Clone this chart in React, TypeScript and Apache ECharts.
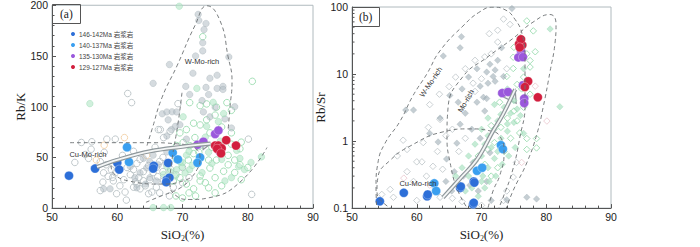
import React, { useEffect, useRef } from "react";
import * as echarts from "echarts";

// ---------- axis ticks ----------
const xTickValues = [50, 60, 70, 80, 90];
const rbkTickValues = [0, 50, 100, 150, 200];
const rbsrMinorTicks = [0.2, 0.3, 0.4, 0.5, 0.6, 0.7, 0.8, 0.9, 2, 3, 4, 5, 6, 7, 8, 9, 20, 30, 40, 50, 60, 70, 80, 90];

// ---------- legend names ----------
const groupNames = ["146-142Ma 岩浆岩", "140-137Ma 岩浆岩", "135-130Ma 岩浆岩", "129-127Ma 岩浆岩"];

// ---------- panel (a): SiO2 vs Rb/K ----------
const a146 = [[52.6, 32], [56.6, 39], [60, 44.6], [60.3, 38], [65.6, 41.7], [65.5, 39], [67.8, 44.5], [67.6, 28], [68, 30], [67.5, 25.6]];
const a140 = [[61.5, 60], [61.8, 45.5], [68.5, 54.5], [69.3, 48], [72.7, 50], [72.3, 44.6]];
const a135 = [[72.3, 62.5], [73.2, 65.4], [75, 73], [75.5, 76.6], [75.6, 57], [75.8, 55]];
const a129 = [[76.7, 67], [75, 61.6], [75.5, 61.6], [76, 59], [75.3, 58.5], [78.2, 61.6], [75.9, 54]];

const aGrayFill = [[72.4, 191], [72.5, 185], [73.6, 182], [73.3, 176], [73.1, 163], [73.1, 155], [77.1, 149], [71.6, 133], [74.2, 128], [75.3, 131], [68, 141.5], [65.5, 123], [76.2, 120], [73.6, 119], [71.1, 112], [74, 112], [75.3, 118], [73, 106], [76.2, 117], [66.9, 93], [68.4, 95], [67.6, 94.8], [69.1, 94.8], [67.8, 87], [68.9, 80.6], [69.6, 82.2], [68.3, 77.4], [67.6, 71.1], [70.6, 68], [73.2, 94.8], [74.2, 90], [75, 99.5], [77.5, 79], [67.6, 55.3], [65.5, 52.1], [65, 45.8], [64.5, 39.5], [66.3, 42.7], [64, 49], [63.5, 34.8], [65, 30], [66, 26.8], [64.3, 23.7], [62.7, 30], [62, 41], [57.9, 19], [58.9, 19], [76.5, 88], [72, 150], [70.5, 120], [78, 100], [63, 20]];
const aGrayHollow = [[54.5, 64.7], [56.1, 65.4], [58.4, 68], [59.7, 68], [55.1, 52.8], [55.6, 49], [57.4, 45.8], [58.3, 42.7], [59.1, 37.9], [57.9, 34.8], [59.7, 34.8], [59.4, 26.8], [60.4, 22], [61.2, 15.8], [61.4, 7.9], [62.5, 20.6], [63, 23.7], [63.5, 19], [64.3, 22], [64.8, 14.2], [65.3, 15.8], [66, 20.6], [67.1, 26.8], [68.6, 20.6], [66.6, 77.4], [67.1, 69.5], [68.1, 75.8], [62.2, 104], [61.6, 113], [69.3, 103], [66.3, 77.4], [80.1, 68], [80.6, 13.5], [57.8, 25.6], [59.3, 30.3], [58.6, 31.3], [57.4, 17.3], [59.9, 14.2], [60, 45], [61.5, 40], [62.5, 38], [63, 44], [63.5, 48], [64, 36], [64.8, 42], [65.5, 35], [66, 40], [66.5, 46], [67, 36], [67.5, 44], [62, 33], [63.3, 30], [65, 28], [66.2, 31], [61, 28], [62.8, 26], [64, 27], [53.5, 45], [56, 58], [58, 55], [60.8, 52], [62.5, 56], [65.8, 60], [67, 50], [68.2, 38], [69, 33], [70, 40], [71, 30], [66.5, 15], [68, 12], [70, 25]];
const aGreenFill = [[55.8, 103], [69.5, 199], [68.1, 36.3], [69.1, 37.9], [69.9, 41], [70.4, 34.8], [71.1, 37.9], [68.9, 31.6], [67.6, 41], [67.1, 33.2], [70.6, 52.1], [72.2, 45.8], [72.7, 61.6], [73.7, 80.6], [75.5, 85.3], [76.3, 93.2], [74.7, 104.3], [70.1, 90], [78.3, 56.9], [78.8, 49], [77.5, 30], [76.5, 26.8], [78.6, 41], [82.1, 50.5], [67.1, 0.5], [68.2, 0.5], [65.5, 0.5], [72.2, 118], [70, 45], [71.5, 42], [73, 35], [74.5, 44], [69, 48], [71, 56], [74, 55], [76, 48], [79.5, 38], [80.5, 45], [73.5, 70], [75.8, 66]];
const aGreenHollow = [[71.1, 104], [72.7, 101], [73.7, 102.7], [75.2, 99.5], [76.8, 104], [77.5, 96.4], [75, 91.7], [73.7, 87], [72.7, 82], [71.7, 83.7], [70.6, 77.4], [69.6, 74.2], [70.1, 64.7], [71.1, 61.6], [69.1, 61.6], [77.5, 74.2], [78.8, 58.5], [77, 52], [78, 47.4], [77, 42.7], [78.8, 42.7], [76.3, 36.3], [75, 30], [72.7, 26.8], [71.7, 19], [70.6, 23.7], [69.6, 30], [68.6, 26.8], [74.2, 39.5], [74, 47.4], [75.2, 47.4], [71.7, 53.7], [70.9, 47.4], [69.6, 45.8], [73.2, 64.7], [71.9, 69.5], [74.2, 74.2], [73.1, 169], [80.7, 125], [72.7, 31.6], [74, 20], [75, 15], [72, 12], [73.5, 25], [76, 22], [78, 35], [79, 28], [80, 40], [70, 10], [71, 15], [69, 12], [76, 80], [79, 65], [74.5, 60], [72.5, 55], [77.5, 63]];
const aOrangeHollow = [[61.1, 69.5], [56.8, 47.4], [58, 62], [64.5, 52]];

// envelopes (a)
const aWMoRich = [[64.56, 61.6], [65.33, 77.7], [66.86, 109], [69.16, 140.3], [71.92, 180.1], [73.75, 199.5], [75.75, 184.8], [76.97, 149.8], [77.59, 125.1], [77.28, 99.5], [76.97, 75.8]];
const aCuMoRich = [[52.76, 64.5], [65.02, 64.5], [68.85, 63.5], [71.92, 58.8], [72.68, 50.2], [72.22, 37.9], [70.38, 27.5], [66.55, 23.7], [61.95, 26.5], [59.35, 35.1], [59.04, 42.7]];
const aLowerLeft = [[64.4, 5.7], [66.86, 12.3], [69.16, 18], [70.84, 25.6]];
const aMoRich = [[69.92, 113.7], [69.31, 83.4], [68.39, 47.4], [68.08, 23.7], [69, 12.3], [71.15, 8.5], [74.21, 10.4], [78.81, 25.6], [82.95, 59.7]];
const aTrend = [[56.9, 40.5], [60, 47.5], [65, 56], [70, 60.5], [74.3, 63.5]];

// ---------- panel (b): SiO2 vs Rb/Sr ----------
const b146 = [[54.3, 0.126], [58, 0.169], [61.6, 0.15], [61.7, 0.16], [66.7, 0.2], [66.8, 0.21], [68.8, 0.25], [68.9, 0.24], [68.7, 0.114], [68.8, 0.12]];
const b140 = [[62.7, 0.234], [63, 0.18], [69.3, 0.36], [70.1, 0.4], [73, 0.87], [73.3, 0.76]];
const b135 = [[73.2, 5.2], [74.1, 5.4], [76.4, 6.8], [76.6, 4.3], [76.6, 3.7], [76.1, 22], [75.7, 17.7], [76.4, 17.9]];
const b129 = [[77.2, 7.8], [76.7, 6.4], [78.7, 4.5], [76, 31], [75.8, 28], [76.3, 27], [76.1, 33], [75.9, 25]];

const bGrayFill = [[66.9, 36], [66.7, 24.6], [64.1, 18.6], [73.1, 24.6], [74.7, 95], [69.3, 12], [70.8, 10.7], [71.8, 9.2], [72.1, 7.8], [71, 7.3], [69.8, 6.6], [65.1, 4.8], [66.4, 3.8], [59.5, 2.9], [70.3, 4.5], [69.3, 3.8], [63.6, 2.2], [66.7, 1.78], [70.8, 4.3], [72.1, 11.5], [71.3, 14], [73.4, 9.2], [66.2, 0.93], [69.8, 1.1], [71.3, 0.67], [68.7, 0.48], [64.6, 0.54], [63.3, 0.97], [65.4, 0.18], [68.2, 0.22], [70.8, 0.25], [77, 0.145], [73.9, 0.133], [78.5, 0.137], [58.3, 2.9], [62, 1.3], [67.5, 2.6], [68.5, 1.5], [70.5, 2.8], [72.5, 16], [68, 9], [67, 6], [65.8, 0.35], [67.2, 0.3], [69.5, 0.18], [64.5, 0.25], [71.5, 0.13]];
const bGrayHollow = [[73.4, 66], [74.4, 55], [68.7, 7.3], [73.9, 12], [57.9, 1.03], [61.8, 1.6], [63.6, 2.1], [60.8, 0.49], [60, 0.49], [55.9, 0.19], [54.6, 0.16], [56.4, 0.145], [60, 0.13], [63.6, 0.145], [73.4, 0.13], [75.4, 0.48], [74.9, 0.29], [73.9, 0.18], [58.5, 0.35], [59.5, 0.25], [61.5, 0.3], [62.5, 0.42], [63.2, 0.7], [64.5, 1.2], [65.5, 1.5], [66.5, 0.7], [67.5, 1.1], [68, 4.5], [69, 5.5], [70, 8.5], [71.5, 20], [72.5, 30], [70.5, 18], [69, 16], [67.5, 12], [66, 9], [65, 6.5], [63.5, 5], [62, 3.5], [57, 0.6], [58.5, 0.75], [61, 0.95], [64, 0.38], [62.8, 0.2], [65.5, 0.14], [67, 0.125], [70, 0.11], [72.5, 45], [71.2, 40]];
const bGreenFill = [[68, 0.3], [69, 0.5], [70, 0.6], [70.5, 0.9], [71, 1.2], [71.5, 0.8], [72, 1.5], [72.5, 2], [73, 2.5], [73.5, 3.2], [74, 1.8], [74.5, 2.6], [75, 4], [75.5, 3], [69.5, 0.35], [70, 0.25], [71, 0.4], [72, 0.55], [72.5, 0.7], [73, 1.1], [74, 1.4], [75, 1.9], [76, 2.4], [74, 6], [73, 5], [72, 3.5], [71, 2.2], [70, 1.5], [69, 0.9], [68, 0.6], [67, 0.4], [66, 0.3], [67.5, 0.18], [68.5, 0.2], [69.5, 0.15], [70.5, 0.2], [82.1, 3.25], [80.6, 47], [76.5, 1.3], [75.2, 0.8], [74.2, 0.6], [73.2, 0.45], [72.2, 0.3], [71.2, 0.25], [70.2, 0.3], [76.5, 12]];
const bGreenHollow = [[77, 62], [78, 44], [78.3, 21.5], [77.5, 15.9], [77.5, 12.7], [74.9, 17.8], [74.9, 12.1], [73.9, 9.2], [78.5, 1.09], [78.5, 0.79], [77, 1.09], [75.9, 1.32], [77, 0.75], [76, 35], [75, 25], [77, 20], [76.5, 9], [75.5, 7], [77.5, 5], [76.5, 3.2], [75.5, 2], [74.5, 1.1], [73.5, 0.7], [72.5, 0.4], [71.5, 0.3], [70.5, 0.45], [69.5, 0.6], [71, 0.75], [72, 0.95], [73, 1.6], [74, 2.2], [75, 2.8], [71.5, 1.7], [72.8, 3.8], [76.2, 6]];
const bPinkHollow = [[80.1, 1.99], [76.2, 0.48], [78.3, 6.6], [62, 0.22], [58, 0.28]];

// envelopes (b)
const bWMoRich = [[53.86, 0.0877], [53.71, 0.212], [54.02, 0.482], [55.1, 0.927], [57.41, 1.97], [59.42, 4.76], [61.58, 10.1], [63.59, 22.2], [67.14, 52.1], [69.77, 85.1], [71.78, 99.5], [73.63, 91], [75.17, 65.5], [76.25, 40.1], [76.72, 17.7], [76.72, 3.44], [75.95, 1.17], [74.86, 0.383], [73.32, 0.143], [72.39, 0.0877]];
const bMoRich = [[68.22, 0.0877], [66.37, 0.18], [65.14, 0.482], [64.67, 1.17], [64.83, 3.12], [67.14, 9.18], [70.85, 17.7], [74.86, 34], [77.95, 59.4], [80.58, 77.3], [81.51, 55.6], [81.35, 28.9], [80.58, 10.8], [79.5, 3.12], [78.57, 1.29], [77.03, 0.482], [74.86, 0.18], [73.63, 0.0877]];
const bCuMoRich = [[57.41, 0.0877], [55.1, 0.114], [53.86, 0.18], [54.02, 0.294], [55.87, 0.514], [58.96, 0.841], [64.05, 1.37], [68.22, 1.52], [71.31, 1.42], [72.86, 1.17], [73.48, 0.668], [72.86, 0.315], [71.78, 0.18], [70.85, 0.0877]];
const bTrend = [[64.05, 0.143], [66.7, 0.276], [69.3, 0.53], [71.8, 1.42], [73.3, 2.48], [75.2, 5.9]];

// ---------- colours ----------
const C146 = "#2d6fd8";
const C140 = "#3a9ff0";
const C135 = "#9a58dc";
const C129 = "#d21f3e";

const SANS = "'Liberation Sans', 'Noto Sans CJK SC', sans-serif";
const SERIF = "'Liberation Serif', serif";

function scatter(name: string, data: number[][], idx: number, symbol: string, size: number, color: string, border: string, bw: number) {
  return {
    type: "scatter",
    name,
    xAxisIndex: idx,
    yAxisIndex: idx,
    data,
    symbol,
    symbolSize: size,
    itemStyle: { color, borderColor: border, borderWidth: bw, opacity: 1 },
    emphasis: { disabled: true },
    silent: true,
  };
}

function envelope(data: number[][], idx: number) {
  return {
    type: "line",
    xAxisIndex: idx,
    yAxisIndex: idx,
    data,
    smooth: 0.5,
    showSymbol: false,
    symbol: "none",
    clip: true,
    lineStyle: { color: "#6b6f72", width: 0.9, type: [4, 3] },
    silent: true,
  };
}

function trend(data: number[][], idx: number) {
  const head = [[data[data.length - 2][0], data[data.length - 2][1], data[data.length - 1][0], data[data.length - 1][1]]];
  return [
    {
      type: "line", xAxisIndex: idx, yAxisIndex: idx, data, smooth: 0.4, symbol: "none",
      lineStyle: { color: "#8f989c", width: 4.2 }, silent: true,
    },
    {
      type: "line", xAxisIndex: idx, yAxisIndex: idx, data, smooth: 0.4, symbol: "none",
      lineStyle: { color: "#f4f6f6", width: 1.8 }, silent: true,
    },
    {
      type: "custom", xAxisIndex: idx, yAxisIndex: idx, data: head, clip: false, silent: true,
      encode: { x: [0, 2], y: [1, 3] },
      renderItem: (params: any, api: any) => {
        const p0 = api.coord([api.value(0), api.value(1)]);
        const p1 = api.coord([api.value(2), api.value(3)]);
        const dx = p1[0] - p0[0];
        const dy = p1[1] - p0[1];
        const len = Math.sqrt(dx * dx + dy * dy) || 1;
        const ux = dx / len, uy = dy / len;
        const L = idx === 0 ? 8 : 12;
        const W = idx === 0 ? 5 : 7;
        const bx = p1[0] - ux * L, by = p1[1] - uy * L;
        return {
          type: "polygon",
          shape: { points: [[p1[0], p1[1]], [bx - uy * W, by + ux * W], [bx + uy * W, by - ux * W]] },
          style: { fill: "#f4f6f6", stroke: "#8f989c", lineWidth: 1.2 },
        };
      },
    },
  ];
}

function xAxis(idx: number) {
  return {
    type: "value",
    gridIndex: idx,
    min: xTickValues[0],
    max: xTickValues[xTickValues.length - 1],
    interval: xTickValues[1] - xTickValues[0],
    axisLine: { show: true, onZero: false, lineStyle: { color: "#555", width: 1 } },
    axisTick: { show: true, inside: true, length: 4, lineStyle: { color: "#555" } },
    minorTick: { show: true, splitNumber: 5, length: 2.5, lineStyle: { color: "#555" } },
    splitLine: { show: false },
    axisLabel: { color: "#222", fontSize: 10.5, fontFamily: SANS, margin: 4 },
    name: "SiO{s|2}(%)",
    nameLocation: "middle",
    nameGap: 16,
    nameTextStyle: {
      color: "#222", fontSize: 13, fontFamily: SERIF,
      rich: { s: { fontSize: 8, fontFamily: SERIF, color: "#222", padding: [8, 0, 0, 0] } },
    },
  };
}

export default function App() {
  const ref = useRef<HTMLDivElement>(null);

  useEffect(() => {
    if (!ref.current) return;
    const chart = echarts.init(ref.current, undefined, { renderer: "svg" });

    const names = groupNames;
    const option: any = {
      animation: false,
      backgroundColor: "#ffffff",
      title: [
        {
          text: "(a)", left: 52, top: 4, padding: [4, 8], borderColor: "#555", borderWidth: 1,
          textStyle: { fontFamily: SERIF, fontSize: 11.5, fontWeight: "normal", color: "#222" },
        },
        {
          text: "(b)", left: 352, top: 7, padding: [4, 7], borderColor: "#555", borderWidth: 1,
          textStyle: { fontFamily: SERIF, fontSize: 11.5, fontWeight: "normal", color: "#222" },
        },
      ],
      legend: {
        data: names,
        left: 69,
        top: 30,
        orient: "vertical",
        icon: "circle",
        itemWidth: 6,
        itemHeight: 6,
        itemGap: 3,
        padding: 0,
        selectedMode: false,
        textStyle: { fontSize: 6.5, color: "#444", fontFamily: SANS, padding: [0, 0, 0, -2] },
      },
      grid: [
        { left: 52, top: 4, width: 261, height: 211, show: true, borderColor: "#b0babe", borderWidth: 1, backgroundColor: "transparent" },
        { left: 352, top: 7, width: 259, height: 211, show: true, borderColor: "#b0babe", borderWidth: 1, backgroundColor: "transparent" },
      ],
      xAxis: [xAxis(0), xAxis(1)],
      yAxis: [
        {
          type: "value", gridIndex: 0,
          min: rbkTickValues[0], max: rbkTickValues[rbkTickValues.length - 1],
          interval: rbkTickValues[1] - rbkTickValues[0],
          axisLine: { show: true, onZero: false, lineStyle: { color: "#555" } },
          axisTick: { show: true, inside: true, length: 4, lineStyle: { color: "#555" } },
          minorTick: { show: true, splitNumber: 5, length: 2.5, lineStyle: { color: "#555" } },
          splitLine: { show: false },
          axisLabel: { color: "#222", fontSize: 10.5, fontFamily: SANS, margin: 4 },
          name: "Rb/K", nameLocation: "middle", nameGap: 20,
          nameTextStyle: { color: "#222", fontSize: 13, fontFamily: SERIF },
        },
        {
          type: "log", gridIndex: 1, logBase: 10, min: 0.1, max: 100,
          axisLine: { show: true, onZero: false, lineStyle: { color: "#555" } },
          axisTick: { show: true, inside: true, length: 4, lineStyle: { color: "#555" } },
          splitLine: { show: false },
          axisLabel: { color: "#222", fontSize: 10.5, fontFamily: SANS, margin: 4, formatter: (v: number) => String(v) },
          name: "Rb/Sr", nameLocation: "middle", nameGap: 17,
          nameTextStyle: { color: "#222", fontSize: 13, fontFamily: SERIF },
        },
      ],
      graphic: [
        { type: "text", x: 202, y: 61, style: { text: "W-Mo-rich", fontSize: 7.5, fontFamily: SANS, fill: "#333", align: "center", verticalAlign: "middle" }, z: 100 },
        { type: "text", x: 88, y: 154, style: { text: "Cu-Mo-rich", fontSize: 7.5, fontFamily: SANS, fill: "#333", align: "center", verticalAlign: "middle" }, z: 100 },
        { type: "text", x: 431, y: 82, rotation: 0.98, style: { text: "W-Mo-rich", fontSize: 7.5, fontFamily: SANS, fill: "#333", align: "center", verticalAlign: "middle" }, z: 100 },
        { type: "text", x: 466, y: 101, rotation: 1.05, style: { text: "Mo-rich", fontSize: 7.5, fontFamily: SANS, fill: "#333", align: "center", verticalAlign: "middle" }, z: 100 },
        { type: "text", x: 418, y: 183, style: { text: "Cu-Mo-rich", fontSize: 7.5, fontFamily: SANS, fill: "#333", align: "center", verticalAlign: "middle" }, z: 100 },
      ],
      series: [
        // panel a background
        scatter("aGrayHollow", aGrayHollow, 0, "circle", 6.5, "rgba(255,255,255,0)", "#b9c2c5", 0.9),
        scatter("aOrange", aOrangeHollow, 0, "circle", 6.5, "rgba(255,255,255,0)", "#f3cfa4", 0.9),
        scatter("aGreenHollow", aGreenHollow, 0, "circle", 6.5, "rgba(255,255,255,0)", "#a5e0b8", 1),
        scatter("aGrayFill", aGrayFill, 0, "circle", 6.5, "rgba(178,190,196,0.55)", "rgba(150,164,170,0.5)", 0.6),
        scatter("aGreenFill", aGreenFill, 0, "circle", 6.5, "rgba(178,230,198,0.6)", "rgba(140,212,168,0.6)", 0.6),
        envelope(aWMoRich, 0),
        envelope(aCuMoRich, 0),
        envelope(aLowerLeft, 0),
        envelope(aMoRich, 0),
        ...trend(aTrend, 0),
        scatter(names[0], a146, 0, "circle", 9, C146, "#ffffff", 0.3),
        scatter(names[1], a140, 0, "circle", 9, C140, "#ffffff", 0.3),
        scatter(names[2], a135, 0, "circle", 9, C135, "#ffffff", 0.3),
        scatter(names[3], a129, 0, "circle", 9, C129, "#ffffff", 0.3),
        // panel b background
        scatter("bGrayHollow", bGrayHollow, 1, "diamond", 6.5, "rgba(255,255,255,0)", "#c4cbce", 0.9),
        scatter("bPink", bPinkHollow, 1, "diamond", 6.5, "rgba(255,255,255,0)", "#ecccd2", 0.9),
        scatter("bGreenHollow", bGreenHollow, 1, "diamond", 6.5, "rgba(255,255,255,0)", "#a5e0b8", 1),
        scatter("bGrayFill", bGrayFill, 1, "diamond", 6.5, "rgba(158,174,181,0.6)", "rgba(140,156,163,0.5)", 0.5),
        scatter("bGreenFill", bGreenFill, 1, "diamond", 6.5, "rgba(172,226,195,0.7)", "rgba(135,208,165,0.6)", 0.5),
        envelope(bWMoRich, 1),
        envelope(bMoRich, 1),
        envelope(bCuMoRich, 1),
        ...trend(bTrend, 1),
        scatter(names[0], b146, 1, "circle", 9, C146, "#ffffff", 0.3),
        scatter(names[1], b140, 1, "circle", 9, C140, "#ffffff", 0.3),
        scatter(names[2], b135, 1, "circle", 9, C135, "#ffffff", 0.3),
        scatter(names[3], b129, 1, "circle", 9, C129, "#ffffff", 0.3),
        // log-axis minor ticks
        {
          type: "custom", xAxisIndex: 1, yAxisIndex: 1, clip: false, silent: true,
          data: rbsrMinorTicks.map((v) => [xTickValues[0], v]),
          encode: { x: 0, y: 1 },
          renderItem: (params: any, api: any) => {
            const p = api.coord([api.value(0), api.value(1)]);
            return { type: "line", shape: { x1: p[0], y1: p[1], x2: p[0] + 2.5, y2: p[1] }, style: { stroke: "#555", lineWidth: 1 } };
          },
        },
      ],
    };

    chart.setOption(option);
    return () => chart.dispose();
  }, []);

  return (
    <div
      ref={ref}
      style={{ position: "fixed", left: 0, top: 0, width: 700, height: 247, background: "#fff" }}
    />
  );
}
